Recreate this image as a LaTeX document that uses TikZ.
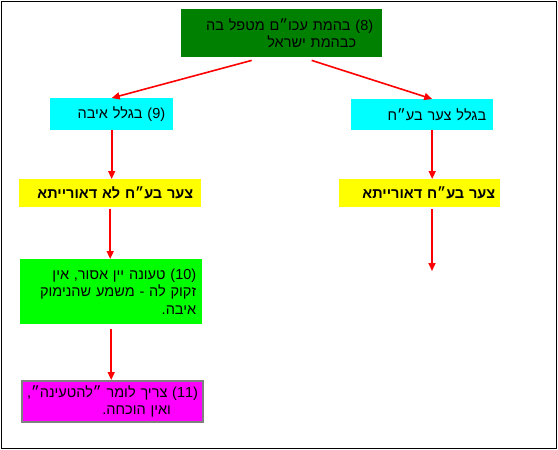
\documentclass[tikz,border=0pt]{standalone}
\usepackage{fontspec}
\usetikzlibrary{arrows.meta,calc}
\TeXXeTstate=1
\newfontfamily\hebfont[Script=Hebrew]{Liberation Sans}
\definecolor{darkgrn}{RGB}{0,128,0}
\definecolor{limegrn}{RGB}{0,255,0}
\definecolor{aqua}{RGB}{0,255,255}
\definecolor{yelw}{RGB}{255,255,0}
\definecolor{fuchs}{RGB}{255,0,255}
\definecolor{edgegray}{RGB}{128,128,128}

\tikzset{
  box/.style={anchor=north west, inner ysep=0pt, align=right,
    font=\hebfont\fontsize{14.5}{17.5}\selectfont},
  link/.style={red, line width=1.6pt, -{Triangle[length=8pt,width=7pt]}}
}

\begin{document}
\begin{tikzpicture}[x=1pt,y=-1pt]
\useasboundingbox (0,0) rectangle (558,450);
\draw[line width=1pt] (1.5,1) rectangle (556,448);
% Boxes
\node[box, fill=darkgrn, inner xsep=9pt, text width=183pt, minimum height=48pt] (top) at (181,9)
  {\beginR\beginL(8)\endL{} בהמת עכו״ם מטפל בה\endR\\ \beginR כבהמת ישראל\endR\hspace*{17pt}\null};
\node[box, fill=aqua, inner xsep=8pt, text width=107pt, minimum height=32pt] (eiva) at (50,98)
  {\beginR\beginL(9)\endL{} בגלל איבה\endR};
\node[box, fill=aqua, inner xsep=7pt, text width=128pt, minimum height=31pt] (tzaar) at (351,99)
  {\beginR בגלל צער בע״ח\endR};
\node[box, fill=yelw, inner xsep=8pt, text width=166pt, minimum height=28pt] (lodeor) at (19,179)
  {\bfseries\beginR צער בע״ח לא דאורייתא\endR};
\node[box, fill=yelw, inner xsep=5pt, text width=151pt, minimum height=28pt] (deor) at (339,179)
  {\bfseries\beginR צער בע״ח דאורייתא\endR};
\node[box, fill=limegrn, inner xsep=6pt, text width=170pt, minimum height=65pt] (teuna) at (20,259)
  {\beginR\beginL(10)\endL{} טעונה יין אסור, אין\endR\\ \beginR זקוק לה - משמע שהנימוק\endR\\ \beginR איבה.\endR};
\node[box, fill=fuchs, draw=edgegray, line width=2pt, inner xsep=5pt, text width=171pt, minimum height=41pt] (tzarich) at (21,380)
  {\beginR\beginL(11)\endL{} צריך לומר ״להטעינה״,\endR\\ \beginR ואין הוכחה.\endR\hspace*{27pt}\null};
% Arrows
\coordinate (deorend) at (432,271);
\draw[link] ([xshift=-30pt,yshift=-3pt]top.south) -- (eiva.north);
\draw[link] ([xshift=30pt,yshift=-3pt]top.south) -- ([xshift=10pt]tzaar.north);
\draw[link] (eiva.south) -- (eiva.south |- lodeor.north);
\draw[link] ([xshift=10pt]tzaar.south) -- ([xshift=10pt]tzaar.south |- deor.north);
\draw[link] ([yshift=-2pt]lodeor.south) -- (lodeor.south |- teuna.north);
\draw[link] ([yshift=-2pt]deorend |- deor.south) -- (deorend);
\draw[link] ([yshift=-5pt]teuna.south) -- (teuna.south |- tzarich.north);
\end{tikzpicture}
\end{document}
